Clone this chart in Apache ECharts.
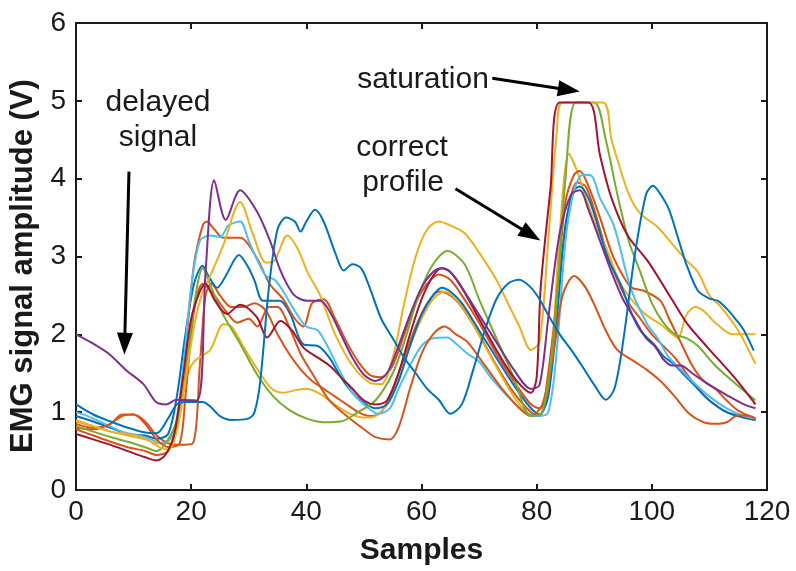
<!DOCTYPE html>
<html>
<head>
<meta charset="utf-8">
<script src="https://cdn.jsdelivr.net/npm/echarts@6/dist/echarts.min.js"></script>
<style>html,body{margin:0;padding:0;background:#fff}#c{width:796px;height:571px}</style>
</head>
<body>
<div id="c"></div>
<script>
// ---- tick labels ----
const xTicks = [0, 20, 40, 60, 80, 100, 120];
const yTicks = [0, 1, 2, 3, 4, 5, 6];

// ---- series values: [sample, amplitude (V)] ----
const blueLate = [[0,1.1],[3,0.97],[6,0.88],[9,0.8],[12,0.74],[14,0.73],[16,0.92],[17.5,1.1],[19,1.13],[22,1.13],[23.5,1.06],[25,0.95],[27,0.9],[30,0.92],[31,1.0],[32,1.4],[33.5,2.6],[35,3.35],[36.5,3.5],[38,3.45],[39,3.32],[40,3.45],[41.5,3.6],[43,3.45],[45,3.05],[46.5,2.82],[48,2.9],[49.5,2.85],[51,2.6],[53,2.2],[55,1.95],[57,1.7],[59,1.5],[61,1.3],[63,1.16],[65,0.98],[67,1.1],[69,1.55],[71,2.05],[73,2.45],[75,2.65],[77,2.7],[79,2.6],[80.5,2.45],[82,2.25],[84,2.0],[86,1.8],[88,1.58],[90,1.35],[92,1.16],[93.5,1.3],[95,1.9],[97,3.0],[99,3.8],[100.2,3.91],[101.5,3.8],[103,3.6],[104.5,3.25],[106,2.9],[108,2.56],[110,2.46],[111.5,2.43],[113,2.33],[114.5,2.2],[116,2.05],[117.7,1.79]];

const orangeLow = [[0,0.8],[3,0.78],[6,0.85],[8,0.97],[10,0.97],[12,0.85],[14,0.65],[16,0.55],[18,0.6],[19,1.2],[20.5,2.3],[22,2.65],[24,2.5],[26,2.3],[28,2.15],[30,2.2],[31.5,2.1],[33.5,2.35],[35,2.35],[37,2.1],[39,1.75],[41,1.5],[44,1.15],[47,0.95],[50,0.78],[52,0.68],[54.5,0.65],[56,0.8],[58,1.3],[60,1.75],[62,2.0],[64,2.1],[66,2.0],[68,1.9],[71,1.6],[74,1.3],[77,1.05],[79,0.95],[81,1.1],[83,1.8],[84.5,2.5],[86.5,2.75],[88.5,2.6],[90.5,2.3],[92,2.05],[94,1.8],[97,1.65],[99,1.55],[101.5,1.4],[104,1.2],[106.5,0.98],[109,0.87],[111,0.85],[113,0.87],[115,0.96],[117,0.95],[118,0.92]];

const yellowSat = [[0,0.9],[3,0.82],[6,0.75],[9,0.72],[12,0.66],[14.5,0.55],[16,0.52],[17.5,0.75],[19,1.4],[20.5,2.1],[22,2.55],[23.3,2.75],[25.6,3.15],[28.5,3.7],[30.8,3.27],[33,2.92],[34.5,2.95],[36.7,3.27],[38.5,3.1],[40.2,2.8],[42.4,2.5],[45,2.0],[48,1.6],[51,1.38],[53,1.36],[55,1.7],[57,2.4],[59,3.0],[61,3.35],[63,3.45],[65,3.4],[67.5,3.3],[70,3.05],[73,2.7],[75,2.4],[77,2.1],[79,1.8],[80.5,1.9],[82,3.2],[83.5,4.6],[84.5,4.98],[91.5,4.98],[93,4.5],[94,4.25],[96,3.8],[98,3.55],[101,3.38],[104,3.12],[106,2.95],[108,2.8],[110,2.5],[112,2.35],[115,2.05],[118,1.62]];

const purpleDelayed = [[0,2.0],[3,1.88],[5.7,1.75],[8.7,1.54],[11.7,1.36],[13.9,1.13],[15.7,1.1],[17.4,1.16],[21,1.15],[22.5,2.8],[24,3.98],[26,3.47],[28.5,3.85],[31.4,3.58],[33.7,3.2],[35.5,2.82],[37.8,2.51],[40.2,2.43],[42.4,2.43],[44,2.3],[46,2.0],[48,1.7],[50,1.48],[52,1.4],[54,1.5],[56,1.85],[58,2.25],[60,2.6],[62,2.8],[63.5,2.85],[65,2.8],[67,2.6],[70,2.25],[73,1.9],[76,1.55],[79,1.3],[80.5,1.35],[82,2.2],[84,3.3],[86,3.8],[87.5,3.85],[89,3.6],[91,3.2],[93,2.8],[95,2.45],[97,2.2],[99,1.95],[100.5,1.85],[102,1.68],[103.5,1.6],[105,1.6],[107,1.5],[110,1.35],[113,1.22],[116,1.1],[118,1.05]];

const green = [[0,0.82],[3,0.75],[6,0.68],[9,0.62],[12,0.55],[14,0.5],[16,0.65],[18,1.0],[19.5,1.8],[21,2.6],[22,2.85],[23.5,2.6],[25.5,2.26],[28.5,1.88],[31.4,1.49],[34.3,1.2],[37,1.03],[40,0.92],[43,0.87],[46,0.88],[49,1.0],[52,1.15],[55,1.5],[57,1.9],[59.5,2.5],[62,2.9],[64.5,3.07],[67.5,2.9],[70,2.45],[73,1.95],[76,1.45],[79,0.95],[81,1.0],[83,2.0],[85,4.0],[86.8,4.98],[90,4.98],[92,4.5],[94,3.8],[96,3.2],[98,2.8],[100,2.4],[102,2.15],[104,2.0],[106,1.95],[108,1.85],[111,1.6],[114,1.4],[118,1.15]];

const lightBlue = [[0,1.0],[2,0.95],[5,0.85],[8,0.75],[11,0.7],[13,0.65],[15,0.6],[17,0.75],[18.5,1.5],[20,2.6],[21.5,3.2],[23.3,3.27],[25,3.25],[26.5,3.4],[28.5,3.45],[30,3.2],[31.5,2.95],[33,2.75],[34.5,2.7],[36,2.55],[38,2.3],[40,2.1],[42,2.05],[44,1.8],[46,1.5],[48,1.25],[50,1.1],[52.5,0.98],[54.5,1.05],[56,1.3],[58,1.6],[60,1.85],[62,1.95],[64.5,1.96],[66,1.88],[68,1.75],[70,1.65],[72,1.45],[75,1.2],[78,1.0],[80,0.95],[82,1.0],[83.5,1.8],[85,3.2],[86.5,3.85],[88,4.05],[89.5,4.04],[91,3.75],[93.4,3.4],[96.3,2.6],[99.2,2.13],[101,1.95],[103,1.7],[105,1.55],[107,1.4],[110,1.2],[113,1.05],[116,0.95],[118,0.92]];

const darkRed = [[0,0.72],[3,0.65],[6,0.58],[9,0.5],[12,0.42],[14,0.38],[15.5,0.45],[17,0.7],[18.5,1.4],[20,2.2],[21.5,2.55],[22.5,2.65],[24,2.45],[26.2,2.26],[28.5,2.38],[31.4,2.22],[33.2,1.96],[35.5,2.17],[37.5,2.05],[39.5,1.83],[42,1.7],[44,1.6],[46,1.45],[48,1.3],[50,1.15],[52,1.1],[54,1.15],[56,1.5],[58,2.0],[60,2.45],[62,2.75],[63.5,2.85],[65,2.8],[67,2.6],[70,2.2],[73,1.8],[76,1.45],[79,1.25],[80,1.45],[80.7,2.6],[82.4,3.87],[84,4.98],[89,4.98],[91,4.3],[93,3.75],[95.8,3.27],[99.3,2.94],[103.3,2.47],[106.2,2.13],[109.7,1.83],[114.3,1.45],[118,1.1]];

const blueMid = [[0,0.95],[3,0.88],[6,0.8],[9,0.72],[12,0.7],[14,0.66],[16,0.72],[17.5,1.2],[19,2.0],[20.5,2.65],[22,2.88],[23,2.75],[24.5,2.6],[26,2.75],[28.3,3.02],[30,2.85],[31,2.69],[32.5,2.43],[35.4,2.43],[37.2,2.26],[39.5,1.87],[42,1.85],[44,1.7],[46,1.45],[48,1.25],[50,1.12],[52,1.05],[54,1.1],[56,1.4],[58,1.85],[60,2.25],[62,2.5],[63.5,2.6],[65,2.55],[67,2.4],[70,2.05],[73,1.7],[76,1.35],[79,1.05],[80.5,0.97],[82,1.2],[83.5,2.2],[85,3.4],[86.5,3.85],[87.5,3.9],[89,3.75],[90.6,3.4],[92.5,2.95],[94.6,2.64],[96.3,2.3],[98,2.05],[100.4,1.87],[102,1.72],[103.8,1.62],[106,1.45],[108,1.3],[110,1.15],[113,1.0],[116,0.93],[118,0.9]];

const orangeRed = [[0,0.78],[3,0.7],[6,0.62],[9,0.55],[12,0.5],[14,0.45],[16,0.5],[17.5,0.8],[19,1.8],[20.5,2.9],[22,3.4],[22.7,3.45],[24,3.35],[25.6,3.24],[28.5,3.24],[31.4,2.98],[33.7,2.64],[36,2.45],[38,2.2],[39.5,2.1],[41,2.4],[43,2.45],[45,2.2],[47,1.9],[49,1.65],[51,1.48],[53,1.45],[55,1.6],[57,2.0],[59,2.4],[61,2.65],[63,2.77],[65,2.7],[67,2.5],[70,2.15],[73,1.75],[76,1.4],[79,1.1],[80.5,1.05],[82,1.3],[83.5,2.5],[85,3.7],[86.5,4.05],[87.5,4.1],[89,3.9],[91,3.5],[93,3.05],[95,2.75],[96.5,2.6],[98.6,2.56],[101.5,2.43],[103,2.2],[105,1.9],[107,1.6],[109,1.4],[111,1.3],[113,1.15],[115,1.02],[118,0.92]];

const yellowLow = [[0,0.88],[3,0.82],[6,0.75],[9,0.7],[12,0.65],[14,0.6],[16,0.62],[17.5,0.85],[19,1.4],[20.5,1.65],[23.3,1.8],[25.6,2.13],[27,2.1],[29,1.85],[31.5,1.55],[34,1.3],[36,1.25],[38,1.28],[40,1.3],[42,1.25],[44,1.15],[47,1.0],[50,0.93],[52,0.95],[54,1.1],[56,1.4],[58,1.85],[60,2.2],[62,2.45],[64,2.55],[66,2.45],[68,2.25],[71,1.85],[74,1.45],[77,1.1],[79.5,0.95],[81,1.0],[82.5,1.6],[84,3.3],[85.6,4.32],[87,4.1],[88.8,3.7],[90.5,3.35],[92.3,3.07],[94.6,2.64],[97,2.4],[99,2.25],[101.5,2.13],[104.5,1.96],[106,2.25],[107.5,2.35],[109,2.3],[111,2.15],[114,2.0],[116,2.0],[118,2.0]];

const orangeLate = [[0,0.85],[3,0.8],[5.7,0.84],[8,0.95],[10,0.97],[12,0.88],[14,0.7],[16,0.6],[18,0.58],[20.3,0.6],[21.5,1.6],[22.5,2.5],[23.5,2.65],[25,2.5],[27,2.35],[29,2.35],[31,2.4],[33,2.3],[35,2.0],[37,1.75],[39,1.55],[41,1.4],[43,1.3],[45,1.2],[47,1.1],[49,1.0],[51,0.95],[53,1.0],[55,1.3],[57,1.7],[59,2.1],[61,2.4],[63,2.55],[65,2.5],[67,2.35],[70,2.0],[73,1.6],[76,1.25],[79,1.0],[80.5,0.95],[82,1.5],[84,2.8],[85.5,3.6],[87,3.95],[88.5,3.9],[90,3.6],[92,3.1],[94,2.7],[96,2.4],[98,2.2],[100,2.0],[102,1.85],[104,1.7],[106,1.5],[108,1.3],[110,1.15],[113,1.0],[116,0.93],[118,0.9]];

const seriesList = [
  {name:'s11', data: orangeLate, color:'#D95319'},
  {name:'s10', data: yellowLow, color:'#EDB120'},
  {name:'s8',  data: blueMid, color:'#0072BD'},
  {name:'s9',  data: orangeRed, color:'#D95319'},
  {name:'s6',  data: lightBlue, color:'#4DBEEE'},
  {name:'s2',  data: orangeLow, color:'#D95319'},
  {name:'s5',  data: green, color:'#77AC30'},
  {name:'s3',  data: yellowSat, color:'#EDB120'},
  {name:'s7',  data: darkRed, color:'#A2142F'},
  {name:'s1',  data: blueLate, color:'#0072BD'},
  {name:'s4',  data: purpleDelayed, color:'#7E2F8E'}
];

const FONT = '"Liberation Sans", Arial, Helvetica, sans-serif';
const chart = echarts.init(document.getElementById('c'), null, {renderer:'canvas'});

const axisLineStyle = {color:'#1a1a1a', width:2};
const series = seriesList.map(s => ({
  type:'line', name:s.name, data:s.data, showSymbol:false, smooth:0.3,
  lineStyle:{color:s.color, width:2}, itemStyle:{color:s.color}, silent:true
}));

// annotation arrows in data coordinates
series.push({
  type:'line', data:[], silent:true,
  markLine:{
    silent:true, symbol:['none','triangle'], symbolSize:[16,22], label:{show:false},
    lineStyle:{color:'#000', width:3, type:'solid'},
    data:[
      [{coord:[9.2,4.09]},{coord:[8.45,1.88]}],
      [{coord:[72.3,5.29]},{coord:[85.6,5.14]}],
      [{coord:[65.9,3.87]},{coord:[79.0,3.28]}]
    ]
  }
});

const txt = (t, x, y, extra) => ({type:'text', x:x, y:y, ...(extra||{}),
  style:{text:t, font:'30px '+FONT, fill:'#1a1a1a', textAlign:'center', textVerticalAlign:'middle'}});

chart.setOption({
  animation:false,
  backgroundColor:'#fff',
  grid:{left:76, right:29, top:23, bottom:77, containLabel:false},
  xAxis:[{
    type:'value', min:0, max:120, interval:20,
    name:'Samples', nameLocation:'middle', nameGap:46,
    nameTextStyle:{fontFamily:FONT, fontSize:30, fontWeight:'bold', color:'#1a1a1a'},
    axisLine:{onZero:false, lineStyle:axisLineStyle}, axisTick:{inside:true, length:6, lineStyle:axisLineStyle},
    axisLabel:{fontFamily:FONT, fontSize:28, color:'#1a1a1a', margin:8, formatter:v=>String(v)},
    splitLine:{show:false}
  },{
    type:'value', position:'top', min:0, max:120, interval:20,
    axisLine:{show:true, onZero:false, lineStyle:axisLineStyle}, axisTick:{show:true, inside:true, length:6, lineStyle:axisLineStyle},
    axisLabel:{show:false}, splitLine:{show:false}
  }],
  yAxis:[{
    type:'value', min:0, max:6, interval:1,
    axisLine:{show:true, onZero:false, lineStyle:axisLineStyle}, axisTick:{show:true, inside:true, length:6, lineStyle:axisLineStyle},
    axisLabel:{fontFamily:FONT, fontSize:28, color:'#1a1a1a', margin:10},
    splitLine:{show:false}
  },{
    type:'value', position:'right', min:0, max:6, interval:1,
    axisLine:{show:true, onZero:false, lineStyle:axisLineStyle}, axisTick:{show:true, inside:true, length:6, lineStyle:axisLineStyle},
    axisLabel:{show:false}, splitLine:{show:false}
  }],
  graphic:[
    {type:'text', x:23, y:266, rotation:Math.PI/2,
     style:{text:'EMG signal amplitude (V)', font:'bold 31px '+FONT, fill:'#1a1a1a', textAlign:'center', textVerticalAlign:'middle'}},
    txt('delayed', 158, 103),
    txt('signal', 158, 138),
    txt('saturation', 423, 80),
    txt('correct', 402, 148),
    txt('profile', 403, 183)
  ],
  series:series
});
</script>
</body>
</html>
